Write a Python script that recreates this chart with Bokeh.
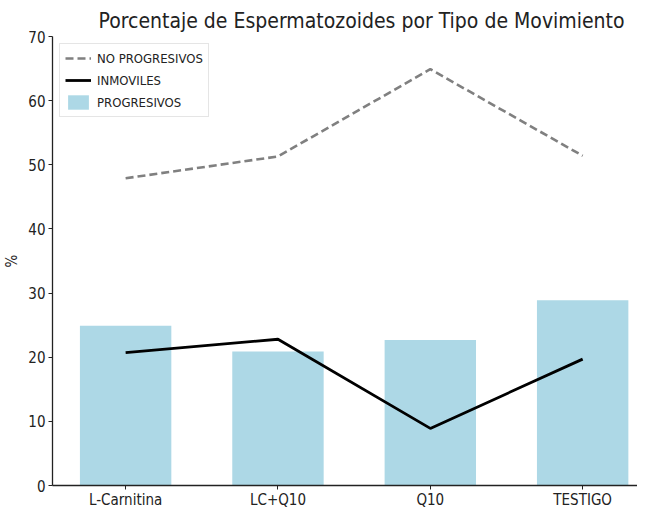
from bokeh.plotting import figure
from bokeh.models import Range1d, FixedTicker, Legend, LegendItem, ColumnDataSource
from bokeh.embed import file_html
from bokeh.resources import INLINE

categories = ["L-Carnitina", "LC+Q10", "Q10", "TESTIGO"]
progresivos = [24.9, 20.9, 22.7, 28.9]
no_progresivos = [47.9, 51.3, 64.9, 51.4]
inmoviles = [20.7, 22.8, 8.9, 19.7]
y_ticks = [0, 10, 20, 30, 40, 50, 60, 70]

FONT = "DejaVu Sans Condensed"

xs = list(range(len(categories)))
src = ColumnDataSource(dict(x=xs, prog=progresivos, nop=no_progresivos, inm=inmoviles))

p = figure(width=637, height=511, output_backend="svg", toolbar_location=None,
           x_range=Range1d(-0.48, 3.36), y_range=Range1d(0, 70),
           min_border_left=46, min_border_right=0, min_border_top=36, min_border_bottom=10)

p.title.text = "Porcentaje de Espermatozoides por Tipo de Movimiento"
p.title.text_font = FONT
p.title.text_font_size = "21px"
p.title.text_font_style = "normal"
p.title.text_color = "#222222"
p.title.align = "left"
p.title.offset = 46
p.title.standoff = 7

bars = p.vbar(x="x", top="prog", width=0.6, source=src, fill_color="#ADD8E6", line_color=None)
l_nop = p.line(x="x", y="nop", source=src, line_color="#808080", line_width=2.6, line_dash="8 4")
l_inm = p.line(x="x", y="inm", source=src, line_color="black", line_width=2.8)

p.xgrid.visible = False
p.ygrid.visible = False
p.outline_line_color = None

p.xaxis.ticker = FixedTicker(ticks=xs)
p.xaxis.major_label_overrides = {i: c for i, c in zip(xs, categories)}
p.yaxis.ticker = FixedTicker(ticks=y_ticks)
p.yaxis.axis_label = "%"

for ax in (p.xaxis, p.yaxis):
    ax.axis_line_color = "#222222"
    ax.axis_line_width = 1.3
    ax.major_tick_line_color = "#222222"
    ax.major_tick_out = 4
    ax.major_tick_in = 0
    ax.minor_tick_line_color = None
    ax.major_label_text_font = FONT
    ax.major_label_text_font_size = "15px"
    ax.major_label_text_color = "#222222"
    ax.axis_label_text_font = FONT
    ax.axis_label_text_font_size = "15px"
    ax.axis_label_text_font_style = "normal"
    ax.axis_label_text_color = "#222222"

p.xaxis.major_label_standoff = 1
p.yaxis.major_label_standoff = 3
p.yaxis.axis_label_standoff = 4

legend = Legend(items=[
    LegendItem(label="NO PROGRESIVOS", renderers=[l_nop]),
    LegendItem(label="INMOVILES", renderers=[l_inm]),
    LegendItem(label="PROGRESIVOS", renderers=[bars]),
], location="top_left")
legend.margin = 7
legend.padding = 5
legend.spacing = 4
legend.glyph_width = 26
legend.glyph_height = 18
legend.label_height = 18
legend.label_standoff = 6
legend.label_text_font = FONT
legend.label_text_font_size = "13px"
legend.label_text_color = "#222222"
legend.border_line_color = "#cccccc"
legend.border_line_width = 1
legend.background_fill_alpha = 0.8
p.add_layout(legend, "center")

open("out.html", "w").write(file_html(p, INLINE))
